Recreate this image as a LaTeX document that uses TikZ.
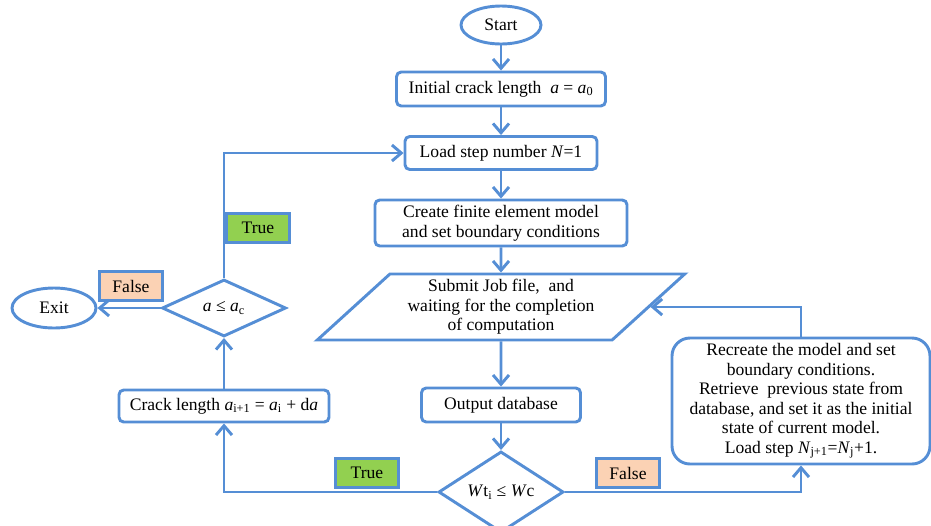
\documentclass[tikz,border=0pt]{standalone}
\usepackage{fontspec}
\setmainfont{Liberation Serif}
\usepackage{tikz}
\usetikzlibrary{shapes.geometric}
\usetikzlibrary{arrows.meta}
\definecolor{flowblue}{RGB}{85,142,213}
\definecolor{truegreen}{RGB}{146,208,80}
\definecolor{falsepeach}{RGB}{251,210,180}
\newcommand{\itv}[1]{\textit{#1}}
\newcommand{\sub}[1]{\textsubscript{#1}}
\tikzstyle{block}=[draw=flowblue, line width=2.5pt, rounded corners=4pt, align=center, inner sep=0]
\tikzstyle{term}=[draw=flowblue, line width=2.5pt, ellipse, inner sep=0]
\tikzstyle{test}=[draw=flowblue, line width=2.5pt, diamond, inner sep=0]
\tikzstyle{io}=[draw=flowblue, line width=2.5pt, trapezium, trapezium left angle=42, trapezium right angle=138,
                trapezium stretches, align=center, inner sep=0]
\tikzstyle{tag}=[draw=flowblue, line width=2.2pt, minimum width=1.89cm, minimum height=0.87cm, inner sep=0]
\tikzstyle{flow}=[draw=flowblue, line width=2.5pt, -{Straight Barb[length=2.8mm,width=4.8mm]}]
\tikzstyle{flowchart}=[x=0.03cm, y=-0.03cm,
                       % Default font for all boxes.
                       every node/.style={font=\fontsize{15}{16.6}\selectfont}]

\begin{document}
\begin{tikzpicture}[flowchart]
        \useasboundingbox (0,0) rectangle (931,525);
        \node[term, minimum width=2.4cm, minimum height=1.14cm]  (start) at (501,25) {Start};
        \node[block, minimum width=6.27cm, minimum height=1.02cm] (init) at (501,89) {Initial crack length \ \itv{a} = \itv{a}\sub{0}};
        \node[block, minimum width=5.76cm, minimum height=0.99cm] (load) at (501,153) {Load step number \itv{N}=1};
        \node[block, minimum width=7.56cm, minimum height=1.38cm] (fem) at (501,223) {Create finite element model\\and set boundary conditions};
        \node[io, minimum width=11.04cm, minimum height=1.98cm]   (job) at (501,307) {Submit Job file,\ \ and\\waiting for the completion\\of computation};
        \node[block, minimum width=4.77cm, minimum height=1.02cm] (odb) at (501,405) {Output database};
        \node[test, minimum width=3.75cm, minimum height=1.8cm]   (wcheck) at (501,492) {\itv{W}t\sub{i} ≤ \itv{W}c};
        \node[block, rounded corners=0.54cm, minimum width=7.74cm, minimum height=3.78cm] (redo) at (801,401)
            {Recreate the model and set\\boundary conditions.\\Retrieve\ \ previous state from\\database, and set it as the initial\\state of current model.\\Load step \itv{N}\sub{j+1}=\itv{N}\sub{j}+1.};
        \node[block, minimum width=6.3cm, minimum height=0.96cm]  (crack) at (224,406) {Crack length \itv{a}\sub{i+1} = \itv{a}\sub{i} + d\itv{a}};
        \node[test, minimum width=3.72cm, minimum height=1.71cm]  (acheck) at (224,308) {\itv{a} ≤ \itv{a}\sub{c}};
        \node[term, minimum width=2.52cm, minimum height=1.2cm]   (exit) at (54,308) {Exit};
        \node[tag, fill=truegreen]  (true1) at (258,228) {True};
        \node[tag, fill=falsepeach] (false1) at (131,286) {False};
        \node[tag, fill=truegreen]  (true2) at (367,473) {True};
        \node[tag, fill=falsepeach] (false2) at (628,473) {False};
        \draw[flow] (start) -- (init);
        \draw[flow] (init) -- (load);
        \draw[flow] (load) -- (fem);
        \draw[flow] (fem) -- (job);
        \draw[flow] (job) -- (odb);
        \draw[flow] (odb) -- (wcheck);
        \draw[flow] (wcheck.east) -| (redo.south);
        \draw[flow] (redo.north) |- (job.east);
        \draw[flow] (wcheck.west) -| (crack.south);
        \draw[flow] (crack) -- (acheck);
        \draw[flow] (acheck.north) |- (load.west);
        \draw[flow] (acheck.west) -- (exit.east);
    \end{tikzpicture}
\end{document}
